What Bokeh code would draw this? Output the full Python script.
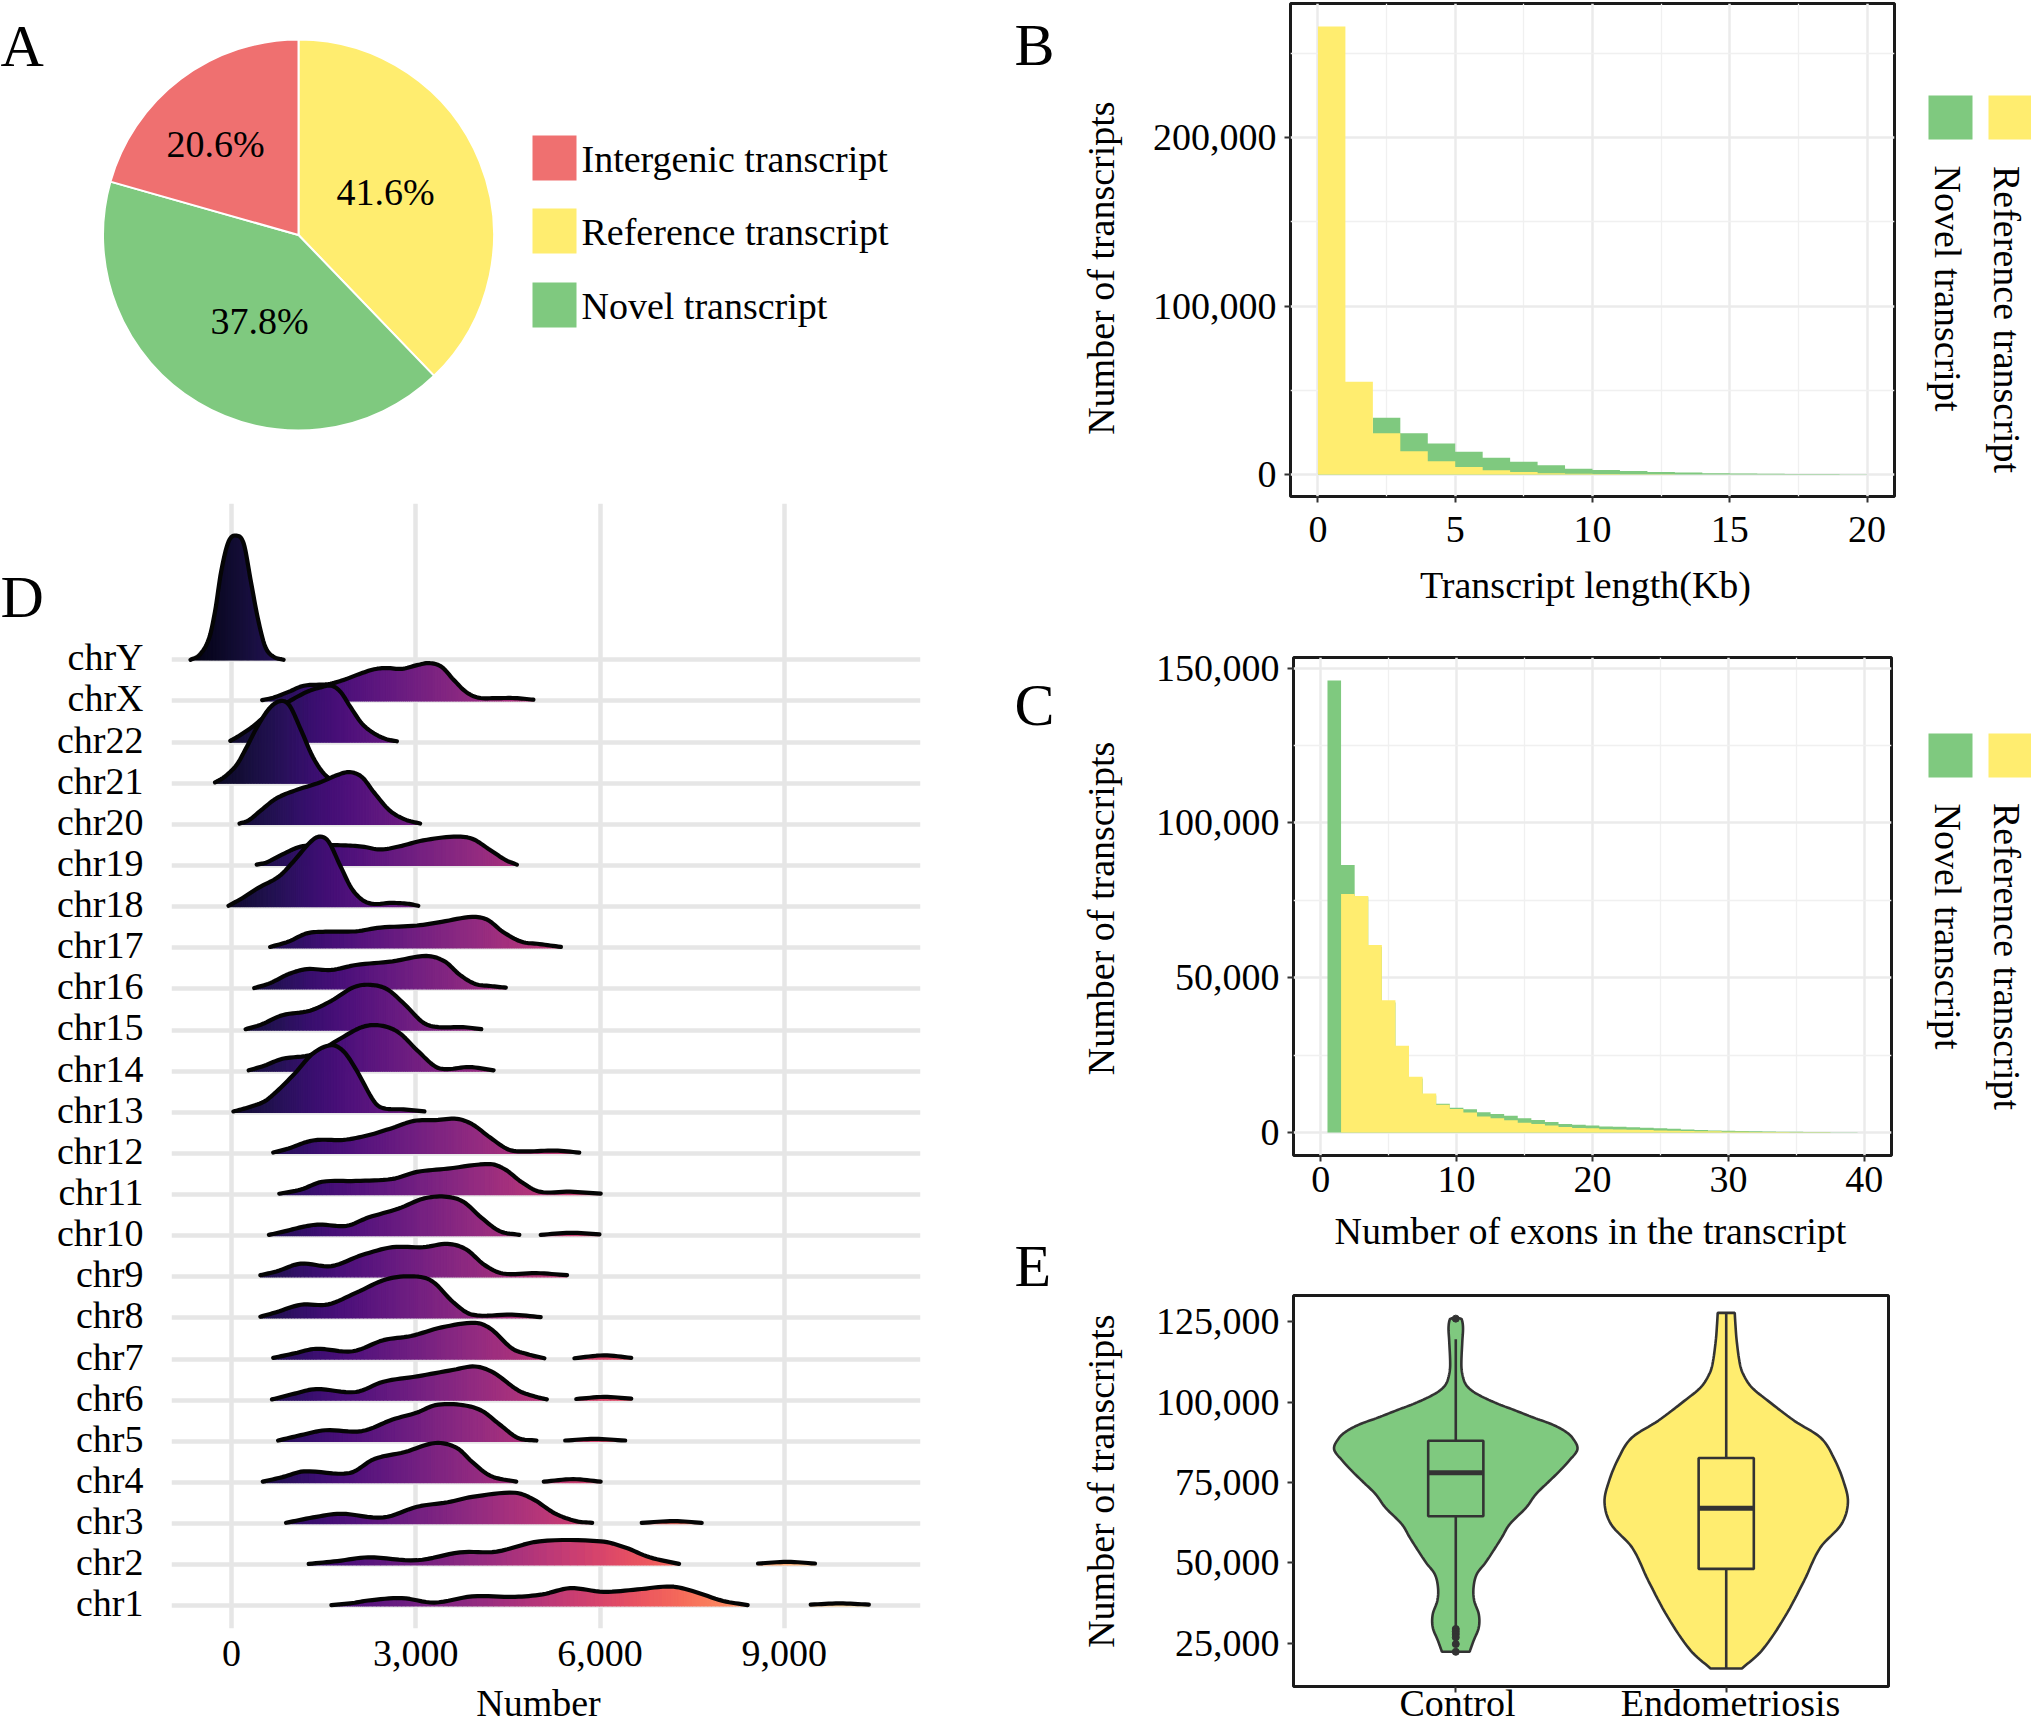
import numpy as np
from bokeh.plotting import figure
from bokeh.models import Label, FixedTicker, NumeralTickFormatter
from bokeh.palettes import Magma256
from bokeh.embed import file_html
from bokeh.resources import INLINE

FONT = "Liberation Serif"
GREEN = "#7FC97F"
YELLOW = "#FFED6F"
RED = "#EF7070"
DARK = "#333333"

# ---- Panel A (slice sizes as drawn in the picture, and the printed labels)
pie_names = ["Reference transcript", "Novel transcript", "Intergenic transcript"]
pie_slices = [37.8, 41.6, 20.6]
pie_labels = ["41.6%", "37.8%", "20.6%"]
pie_colors = [YELLOW, GREEN, RED]

# ---- Panel B
length_bins = list(range(20))
length_novel = [1000, 1000, 33800, 24600, 18500, 13600, 10000, 7700, 5600, 3500,
                2800, 2100, 1600, 1200, 800, 700, 500, 400, 300, 200]
length_ref = [266000, 55200, 24600, 13800, 8000, 4500, 2600, 1600, 800, 500,
              300, 200, 150, 100, 80, 60, 40, 30, 20, 10]

# ---- Panel C
exon_bins = list(range(1, 40))
exon_novel = [146000, 86400, 76000, 60000, 42000, 27500, 17500, 12000, 9300, 8000,
              7500, 6600, 6000, 5400, 4600, 4100, 3400, 2800, 2500, 2300,
              2000, 1900, 1700, 1600, 1400, 1200, 1000, 800, 700, 600,
              500, 450, 350, 300, 250, 200, 150, 100, 100]
exon_ref = [0, 77000, 76400, 60600, 42700, 28000, 18000, 12600, 9000, 7600,
            6500, 5200, 4600, 4000, 3200, 2800, 2300, 1800, 1500, 1400,
            1100, 1000, 900, 800, 700, 600, 500, 400, 400, 300,
            250, 200, 200, 150, 100, 100, 80, 50, 50]

# ---- Panel D: (value, ridge height in rows); a chromosome may have two runs
chroms = ["chr1", "chr2", "chr3", "chr4", "chr5", "chr6", "chr7", "chr8", "chr9", "chr10",
          "chr11", "chr12", "chr13", "chr14", "chr15", "chr16", "chr17", "chr18", "chr19",
          "chr20", "chr21", "chr22", "chrX", "chrY"]
ridge_x = {
    "chrY": [[-668, -518, -369, -269, -169, -50, 80, 199, 309, 429, 548, 678, 847]],
    "chrX": [[498, 678, 927, 1176, 1575, 1824, 2073, 2322, 2522, 2771, 3020, 3219, 3419, 3618, 3817, 4017, 4316, 4615, 4914]],
    "chr22": [[-20, 130, 329, 528, 927, 1226, 1425, 1625, 1774, 1924, 2123, 2322, 2522, 2691]],
    "chr21": [[-269, -120, 80, 229, 429, 628, 807, 947, 1126, 1326, 1525, 1724, 1924]],
    "chr20": [[130, 279, 478, 728, 1027, 1425, 1724, 1924, 2123, 2322, 2571, 2821, 3070]],
    "chr19": [[409, 578, 827, 1126, 1425, 1824, 2123, 2422, 2721, 3120, 3618, 3917, 4216, 4465, 4645]],
    "chr18": [[-50, 179, 429, 777, 1027, 1276, 1425, 1575, 1774, 1973, 2223, 2621, 2870, 3040]],
    "chr17": [[628, 927, 1226, 1525, 2023, 2422, 3020, 3419, 3917, 4166, 4415, 4714, 5013, 5362]],
    "chr16": [[369, 628, 927, 1226, 1625, 2023, 2621, 3170, 3468, 3718, 3967, 4216, 4465]],
    "chr15": [[229, 478, 827, 1276, 1625, 1973, 2223, 2522, 2821, 3120, 3369, 3768, 4066]],
    "chr14": [[279, 528, 827, 1326, 1724, 2123, 2422, 2721, 3020, 3319, 3518, 3867, 4266]],
    "chr13": [[30, 230, 530, 730, 1027, 1326, 1625, 1824, 2023, 2322, 2470, 2800, 3140]],
    "chr12": [[678, 927, 1226, 1425, 1824, 2223, 2621, 2970, 3319, 3668, 3917, 4216, 4515, 4814, 5262, 5661]],
    "chr11": [[777, 1126, 1475, 2023, 2621, 3020, 3518, 4216, 4465, 4714, 5013, 5512, 6010]],
    "chr10": [[608, 877, 1176, 1425, 1874, 2223, 2721, 3120, 3468, 3768, 4066, 4365, 4685], [5033, 5512, 5990]],
    "chr9": [[469, 728, 1126, 1625, 2123, 2621, 3120, 3518, 3817, 4116, 4415, 4963, 5462]],
    "chr8": [[469, 728, 1126, 1575, 2023, 2522, 2970, 3269, 3618, 3917, 4565, 5033]],
    "chr7": [[678, 1027, 1375, 1973, 2472, 2920, 3419, 3967, 4216, 4565, 4814, 5093], [5582, 6060, 6508]],
    "chr6": [[658, 1027, 1375, 2023, 2472, 3020, 3618, 3967, 4266, 4665, 4914, 5133], [5612, 6060, 6508]],
    "chr5": [[758, 1126, 1525, 2123, 2621, 3020, 3319, 3718, 4066, 4365, 4665, 4963], [5432, 5910, 6409]],
    "chr4": [[508, 827, 1176, 1924, 2322, 2821, 3319, 3668, 3917, 4216, 4635], [5083, 5562, 6010]],
    "chr3": [[887, 1326, 1774, 2472, 3020, 3518, 3917, 4615, 4914, 5262, 5611, 5871], [6678, 7206, 7655]],
    "chr2": [[1256, 1724, 2223, 3020, 3718, 4316, 5013, 6010, 6409, 6808, 7286], [8572, 9050, 9499]],
    "chr1": [[1625, 1973, 2223, 2771, 3299, 3917, 4615, 5063, 5512, 6060, 6608, 7156, 7505, 8003, 8402], [9429, 9897, 10376]],
}
ridge_h = {
    "chrY": [[0, .125, .51, 1.18, 2.15, 2.87, 3.02, 2.82, 1.95, 1.0, .32, .08, 0]],
    "chrX": [[.02, .08, .22, .37, .41, .51, .65, .77, .80, .78, .87, .92, .83, .51, .22, .08, .07, .07, .03]],
    "chr22": [[.03, .16, .36, .6, .98, 1.22, 1.32, 1.37, 1.22, .88, .45, .21, .07, .02]],
    "chr21": [[.02, .15, .44, .83, 1.40, 1.84, 2.0, 1.88, 1.31, .63, .2, .04, 0]],
    "chr20": [[.02, .1, .34, .63, .82, 1.01, 1.2, 1.27, 1.15, .77, .34, .12, .02]],
    "chr19": [[.02, .08, .27, .46, .49, .49, .46, .39, .46, .61, .70, .65, .37, .13, .02]],
    "chr18": [[.02, .21, .45, .74, 1.13, 1.56, 1.7, 1.59, .98, .40, .09, .09, .07, .02]],
    "chr17": [[.02, .15, .35, .39, .40, .49, .54, .63, .75, .68, .39, .15, .09, .02]],
    "chr16": [[.02, .14, .36, .48, .46, .58, .67, .80, .67, .34, .12, .07, .03]],
    "chr15": [[.02, .13, .36, .47, .71, 1.03, 1.10, 1.0, .62, .18, .07, .07, .02]],
    "chr14": [[.02, .13, .30, .41, .75, 1.07, 1.11, .94, .51, .11, .05, .10, .02]],
    "chr13": [[.02, .1, .26, .5, .94, 1.43, 1.63, 1.48, 1.05, .26, .1, .07, .02]],
    "chr12": [[.02, .12, .28, .33, .33, .44, .62, .79, .81, .84, .71, .38, .09, .05, .07, .02]],
    "chr11": [[.02, .12, .31, .33, .38, .55, .63, .74, .6, .31, .07, .07, .02]],
    "chr10": [[.02, .11, .22, .27, .24, .44, .66, .90, .95, .83, .44, .11, .02], [.02, .07, .03]],
    "chr9": [[.04, .13, .32, .26, .53, .72, .72, .8, .67, .29, .08, .09, .04]],
    "chr8": [[.03, .14, .32, .33, .61, .94, 1.01, .89, .37, .08, .08, .02]],
    "chr7": [[.03, .14, .25, .19, .46, .56, .77, .88, .74, .26, .12, .02], [.02, .09, .03]],
    "chr6": [[.02, .16, .27, .2, .45, .58, .74, .82, .67, .24, .1, .02], [.03, .08, .04]],
    "chr5": [[.02, .15, .27, .25, .53, .70, .88, .89, .75, .41, .08, .02], [.02, .06, .02]],
    "chr4": [[.02, .13, .27, .23, .57, .74, .96, .84, .5, .16, .02], [.02, .08, .02]],
    "chr3": [[.02, .15, .24, .15, .41, .52, .65, .75, .59, .25, .06, .02], [.02, .06, .02]],
    "chr2": [[.02, .09, .18, .11, .30, .32, .57, .57, .42, .18, .02], [.03, .07, .03]],
    "chr1": [[.02, .07, .13, .19, .08, .23, .22, .28, .43, .34, .40, .47, .36, .12, .02], [.03, .06, .03]],
}

# ---- Panel E
groups = ["Control", "Endometriosis"]
control_y = [126100, 125800, 123200, 119100, 111800, 108700, 105600, 103500, 101500, 99400, 97300,
             95200, 93200, 91100, 89000, 85400, 81700, 78600, 75000, 71400, 67200, 62000,
             57900, 53700, 50000, 46500, 42300, 38200, 34000, 29900, 25700, 22300]
control_w = [6, 9, 11, 10, 8.5, 10, 15, 25, 42, 65, 92,
             118, 145, 165, 177, 185, 172, 158, 140, 122, 107, 82,
             70, 57, 45, 32, 27, 28, 35, 35, 27, 21]
endo_y = [127800, 124300, 119100, 111800, 108700, 104600, 100400, 94200, 89000, 82800, 75500,
          68800, 62000, 54800, 44400, 33000, 22600, 17100]
endo_w = [13, 14, 16, 21, 26, 39, 64, 104, 144, 164, 179, 186, 176, 144, 119, 89, 54, 24]
box_q1 = [64500, 48100]
box_med = [78000, 67000]
box_q3 = [88000, 82600]
whisk_lo = [29400, 17100]
whisk_hi = [119600, 127800]
outliers_control = [126000, 29400, 28600, 27800, 26800, 24700, 22300]


def place(left, top):
    return {"position": "absolute", "left": f"{left}px", "top": f"{top}px"}


def smooth(t, v, n=8):
    """Draw a rounded curve through the read points (Hermite segments)."""
    t = np.asarray(t, float)
    v = np.asarray(v, float)
    if len(t) < 3:
        return t, v
    m = np.zeros_like(v)
    m[1:-1] = (v[2:] - v[:-2]) / (t[2:] - t[:-2])
    m[0] = (v[1] - v[0]) / (t[1] - t[0])
    m[-1] = (v[-1] - v[-2]) / (t[-1] - t[-2])
    ot, ov = [], []
    for i in range(len(t) - 1):
        d = t[i + 1] - t[i]
        for s in np.linspace(0, 1, n, endpoint=False):
            h00 = 2 * s**3 - 3 * s**2 + 1
            h10 = s**3 - 2 * s**2 + s
            h01 = -2 * s**3 + 3 * s**2
            h11 = s**3 - s**2
            ot.append(t[i] + s * d)
            ov.append(h00 * v[i] + h10 * d * m[i] + h01 * v[i + 1] + h11 * d * m[i + 1])
    ot.append(t[-1])
    ov.append(v[-1])
    return np.array(ot), np.maximum(np.array(ov), 0)


def style_axes(p, xticks, xminor, yticks, yminor, xstand):
    p.xaxis.ticker = FixedTicker(ticks=xticks, minor_ticks=xminor)
    p.yaxis.ticker = FixedTicker(ticks=yticks, minor_ticks=yminor)
    p.yaxis.formatter = NumeralTickFormatter(format="0,0")
    for ax in (p.xaxis[0], p.yaxis[0]):
        ax.axis_line_color = None
        ax.major_tick_line_color = DARK
        ax.major_tick_line_width = 2
        ax.major_tick_out = 6
        ax.major_tick_in = 0
        ax.minor_tick_out = 0
        ax.minor_tick_in = 0
        ax.major_label_text_font = FONT
        ax.major_label_text_font_size = "38px"
        ax.major_label_text_color = "#000000"
    p.xaxis.major_label_standoff = xstand
    p.yaxis.major_label_standoff = 8
    p.outline_line_color = "#1a1a1a"
    p.outline_line_width = 3
    for g in (p.xgrid[0], p.ygrid[0]):
        g.grid_line_color = "#ebebeb"
        g.grid_line_width = 2.5
        g.minor_grid_line_color = "#f0f0f0"
        g.minor_grid_line_width = 1.3


def panel(left, top, width, height, fl, fr, ft, fb, xr, yr):
    """A figure whose frame sits at page pixels fl..fr, ft..fb."""
    return figure(width=width, height=height, x_range=xr, y_range=yr, output_backend="svg",
                  toolbar_location=None, frame_align=False, styles=place(left, top),
                  min_border_left=fl - left, min_border_right=left + width - fr,
                  min_border_top=ft - top, min_border_bottom=top + height - fb)


# ---------- A
pa = figure(width=1000, height=500, x_range=(0, 1000), y_range=(0, 500), output_backend="svg",
            toolbar_location=None, x_axis_location=None, y_axis_location=None, min_border=0,
            frame_align=False, styles=place(0, 0))
pa.grid.visible = False
pa.outline_line_color = None
fr_ = np.cumsum([0] + pie_slices) / 100
pa.wedge(x=298, y=500 - 234.5, radius=195.5, start_angle=[np.pi / 2 - 2 * np.pi * a for a in fr_[1:]],
         end_angle=[np.pi / 2 - 2 * np.pi * a for a in fr_[:-1]],
         fill_color=pie_colors, line_color="white", line_width=2)

# ---------- D
D_xr = (-978, 11217)
D_yr = (0.45, 27.8)
pd_ = panel(0, 500, 1000, 1223, 171, 920, 503, 1628, D_xr, D_yr)
pd_.outline_line_color = None
pd_.xaxis.ticker = FixedTicker(ticks=[0, 3000, 6000, 9000])
pd_.xaxis.formatter = NumeralTickFormatter(format="0,0")
row_ticks = list(range(1, 25))
label_lift = 0.0625  # row names sit a little above their grid lines
pd_.yaxis.ticker = FixedTicker(ticks=[r + label_lift for r in row_ticks])
pd_.yaxis.major_label_overrides = {r + label_lift: c for r, c in zip(row_ticks, chroms)}
pd_.ygrid[0].ticker = FixedTicker(ticks=row_ticks)
for ax in (pd_.xaxis[0], pd_.yaxis[0]):
    ax.axis_line_color = None
    ax.major_tick_line_color = None
    ax.minor_tick_line_color = None
    ax.major_label_text_font = FONT
    ax.major_label_text_font_size = "38px"
    ax.major_label_text_color = "#000000"
pd_.xaxis.major_label_standoff = 6
pd_.yaxis.major_label_standoff = 22
for g in (pd_.xgrid[0], pd_.ygrid[0]):
    g.grid_line_color = "#e6e6e6"
    g.grid_line_width = 4.5


def magma(x):
    return Magma256[int(np.clip((x + 1090) / 12120 * 255, 0, 255))]


for rank in range(len(chroms) - 1, -1, -1):
    name = chroms[rank]
    base = rank + 1
    for xs, hs in zip(ridge_x[name], ridge_h[name]):
        sx, sh = smooth(xs, hs)
        # the fill is cut into narrow strips, one magma colour each
        px, py, col = [], [], []
        for i in range(len(sx) - 1):
            px.append([sx[i], sx[i + 1], sx[i + 1], sx[i]])
            py.append([base, base, base + sh[i + 1], base + sh[i]])
            col.append(magma((sx[i] + sx[i + 1]) / 2))
        pd_.patches(px, py, fill_color=col, line_color=col, line_width=1.3)
        pd_.line(sx, base + sh, line_color="#050505", line_width=4.2,
                 line_join="round", line_cap="round")

# ---------- B
pb = panel(1070, 0, 961, 620, 1290, 1894, 3, 496, (-1.0, 21.0), (-13000, 279700))
style_axes(pb, [0, 5, 10, 15, 20], [2.5, 7.5, 12.5, 17.5], [0, 100000, 200000], [50000, 150000, 250000], 14)
for vals, col in [(length_novel, GREEN), (length_ref, YELLOW)]:
    pb.varea_step(x=length_bins + [length_bins[-1] + 1], y1=[0] * (len(vals) + 1), y2=vals + [vals[-1]],
                  step_mode="after", fill_color=col)

# ---------- C
pc = panel(1070, 620, 961, 632, 1293, 1891, 657, 1155, (-2.0, 42.0), (-7400, 153400))
style_axes(pc, [0, 10, 20, 30, 40], [5, 15, 25, 35], [0, 50000, 100000, 150000], [25000, 75000, 125000], 5)
for vals, col in [(exon_novel, GREEN), (exon_ref, YELLOW)]:
    pc.varea_step(x=[b - .5 for b in exon_bins] + [exon_bins[-1] + .5], y1=[0] * (len(vals) + 1),
                  y2=vals + [vals[-1]], step_mode="after", fill_color=col)

# ---------- E
pe = panel(1070, 1252, 961, 471, 1293, 1888, 1295, 1686, (0.4, 2.6), (11500, 133200))
style_axes(pe, [1, 2], [], [25000, 50000, 75000, 100000, 125000], [], 0)
pe.grid.visible = False
pe.xaxis.major_label_text_font_size = "1px"
pe.xaxis.major_label_overrides = {1: "", 2: ""}
for c, ys, ws, col in [(1, control_y, control_w, GREEN), (2, endo_y, endo_w, YELLOW)]:
    ys_up = np.array(ys[::-1], float)
    ws_up = np.array(ws[::-1], float) / max(ws) * 0.45
    sy, sw = smooth(ys_up, ws_up)
    pe.patch(list(c - sw) + list(c + sw[::-1]), list(sy) + list(sy[::-1]), fill_color=col,
             line_color=DARK, line_width=2.6)
centers = [1, 2]
box_half = 0.102
pe.segment(centers, whisk_lo, centers, box_q1, line_color=DARK, line_width=2.6)
pe.segment(centers, box_q3, centers, whisk_hi, line_color=DARK, line_width=2.6)
pe.quad(left=[c - box_half for c in centers], right=[c + box_half for c in centers], top=box_q3, bottom=box_q1,
        fill_color=None, line_color=DARK, line_width=2.6)
pe.segment([c - box_half for c in centers], box_med, [c + box_half for c in centers], box_med,
           line_color=DARK, line_width=5)
pe.scatter([1] * len(outliers_control), outliers_control, size=7, color=DARK)

# ---------- page-wide transparent sheet: titles, panel letters, legends (page pixels)
ov = figure(width=2031, height=1723, x_range=(0, 2031), y_range=(1723, 0), output_backend="svg",
            toolbar_location=None, x_axis_location=None, y_axis_location=None, min_border=0,
            frame_align=False, styles=place(0, 0), background_fill_color=None, border_fill_color=None)
ov.grid.visible = False
ov.outline_line_color = None


def label(x, y, text, size=38, angle=0, align="center", baseline="middle"):
    # the y range of the sheet runs downwards
    ov.add_layout(Label(x=x, y=y, text=text, angle=angle, text_font=FONT,
                        text_font_size=f"{size}px", text_align=align, text_baseline=baseline,
                        text_color="#000000"))


for txt, (lx, ly) in zip(pie_labels, [(385, 191), (259, 320), (215, 143)]):
    label(lx, ly, txt)
leg_order = [pie_names[2], pie_names[0], pie_names[1]]
leg_colors = [pie_colors[2], pie_colors[0], pie_colors[1]]
leg_tops = [135, 208, 282]
ov.quad(left=532, right=576, top=leg_tops, bottom=[t + 45 for t in leg_tops], fill_color=leg_colors, line_color=None)
for n, t in zip(leg_order, leg_tops):
    label(581, t + 23, n, align="left")
for letter, lx, base in [("A", 0, 45), ("D", 0, 596), ("B", 1014, 44), ("C", 1014, 704), ("E", 1014, 1265)]:
    label(lx, base, letter, size=60, align="left", baseline="alphabetic")
label(538, 1702, "Number")
label(1585, 584, "Transcript length(Kb)")
label(1590, 1230, "Number of exons in the transcript")
for mid in (267.6, 908, 1480.6):
    label(1100, mid, "Number of transcripts", angle=np.pi / 2)
for sw_top, nov_mid, ref_mid in [(95, 288, 319), (733, 926, 956)]:
    ov.quad(left=[1928, 1988], right=[1972, 2031], top=sw_top, bottom=sw_top + 44,
            fill_color=[GREEN, YELLOW], line_color=None)
    label(1947, nov_mid, "Novel transcript", angle=-np.pi / 2)
    label(2006, ref_mid, "Reference transcript", angle=-np.pi / 2)
label(1457, 1702, groups[0])
label(1730, 1702, groups[1])

open("out.html", "w").write(file_html([pa, pd_, pb, pc, pe, ov], INLINE))
